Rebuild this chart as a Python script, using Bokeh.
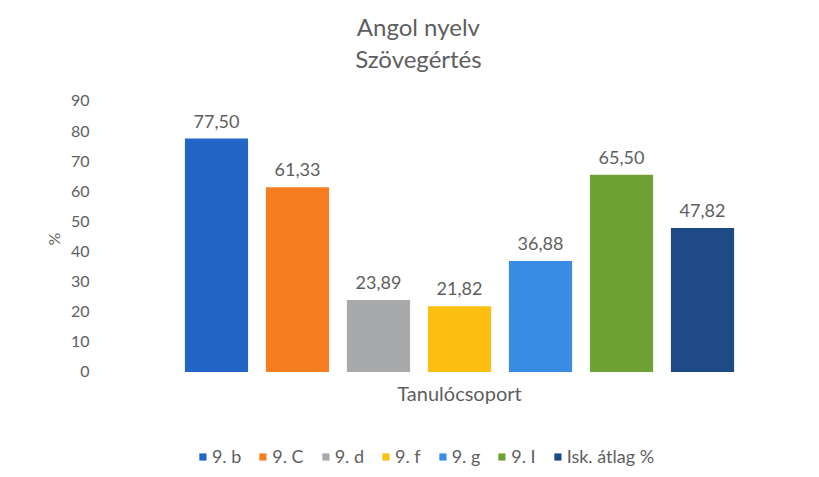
from bokeh.plotting import figure
from bokeh.models import ColumnDataSource, Range1d, Legend, LegendItem, FixedTicker, Label
from bokeh.core.properties import value
from bokeh.embed import file_html
from bokeh.resources import INLINE

groups = ["9. b", "9. C", "9. d", "9. f", "9. g", "9. I", "Isk. átlag %"]
scores = [77.50, 61.33, 23.89, 21.82, 36.88, 65.50, 47.82]
score_labels = ["77,50", "61,33", "23,89", "21,82", "36,88", "65,50", "47,82"]
colors = ["#2166c6", "#f77d21", "#a8a9ab", "#fdbf0f", "#3a8be3", "#6fa135", "#1e4a85"]
y_ticks = [0, 10, 20, 30, 40, 50, 60, 70, 80, 90]
title_lines = ["Angol nyelv", "Szövegértés"]
x_title = "Tanulócsoport"
y_title = "%"

FONT = "Lato"
GREY = "#5e5e5e"

xs = list(range(len(groups)))
mid = (xs[0] + xs[-1]) / 2

# frame spans the whole canvas height; the value axis covers 0..90 only
p = figure(frame_width=652, frame_height=461, output_backend="svg", toolbar_location=None,
           x_range=Range1d(-1.432, 6.617), y_range=Range1d(-32.4, 120.7),
           min_border_left=100, min_border_right=52, min_border_top=8, min_border_bottom=0)
p.outline_line_color = None
p.xgrid.visible = False
p.ygrid.visible = False
p.xaxis.visible = False

yax = p.yaxis[0]
yax.ticker = FixedTicker(ticks=y_ticks)
yax.axis_line_color = None
yax.major_tick_line_color = None
yax.minor_tick_line_color = None
yax.major_label_standoff = 5
yax.major_label_text_font = FONT
yax.major_label_text_font_size = "16px"
yax.major_label_text_color = GREY
yax.axis_label = y_title
yax.axis_label_standoff = 5
yax.axis_label_text_font = FONT
yax.axis_label_text_font_style = "normal"
yax.axis_label_text_font_size = "16px"
yax.axis_label_text_color = GREY

items = []
for i in xs:
    src = ColumnDataSource(dict(x=[xs[i]], top=[scores[i]], lab=[score_labels[i]]))
    r = p.vbar(x="x", top="top", bottom=0, width=0.78, source=src,
               fill_color=colors[i], line_color=None)
    items.append(LegendItem(label=groups[i], renderers=[r]))
    p.text(x="x", y="top", text="lab", source=src, y_offset=-11,
           text_align="center", text_baseline="bottom",
           text_font=value(FONT), text_font_size="18px", text_color=GREY)

title_x = (p.x_range.start + p.x_range.end) / 2 - 0.1
for k, t in enumerate(title_lines):
    p.add_layout(Label(x=title_x, y=114.7 - 10.6 * k, text=t, text_align="center",
                       text_baseline="middle", text_font=FONT, text_font_size="24px",
                       text_color=GREY))
p.add_layout(Label(x=mid, y=-7.1, text=x_title, text_align="center", text_baseline="middle",
                   text_font=FONT, text_font_size="20px", text_color=GREY))

legend = Legend(items=items, orientation="horizontal", location="bottom_center",
                glyph_width=9, glyph_height=9, label_standoff=5, spacing=17,
                label_text_font=FONT, label_text_font_size="18px", label_text_color=GREY,
                border_line_color=None, background_fill_alpha=0, padding=5, margin=2)
p.add_layout(legend, "center")

open("out.html", "w").write(file_html(p, INLINE))
